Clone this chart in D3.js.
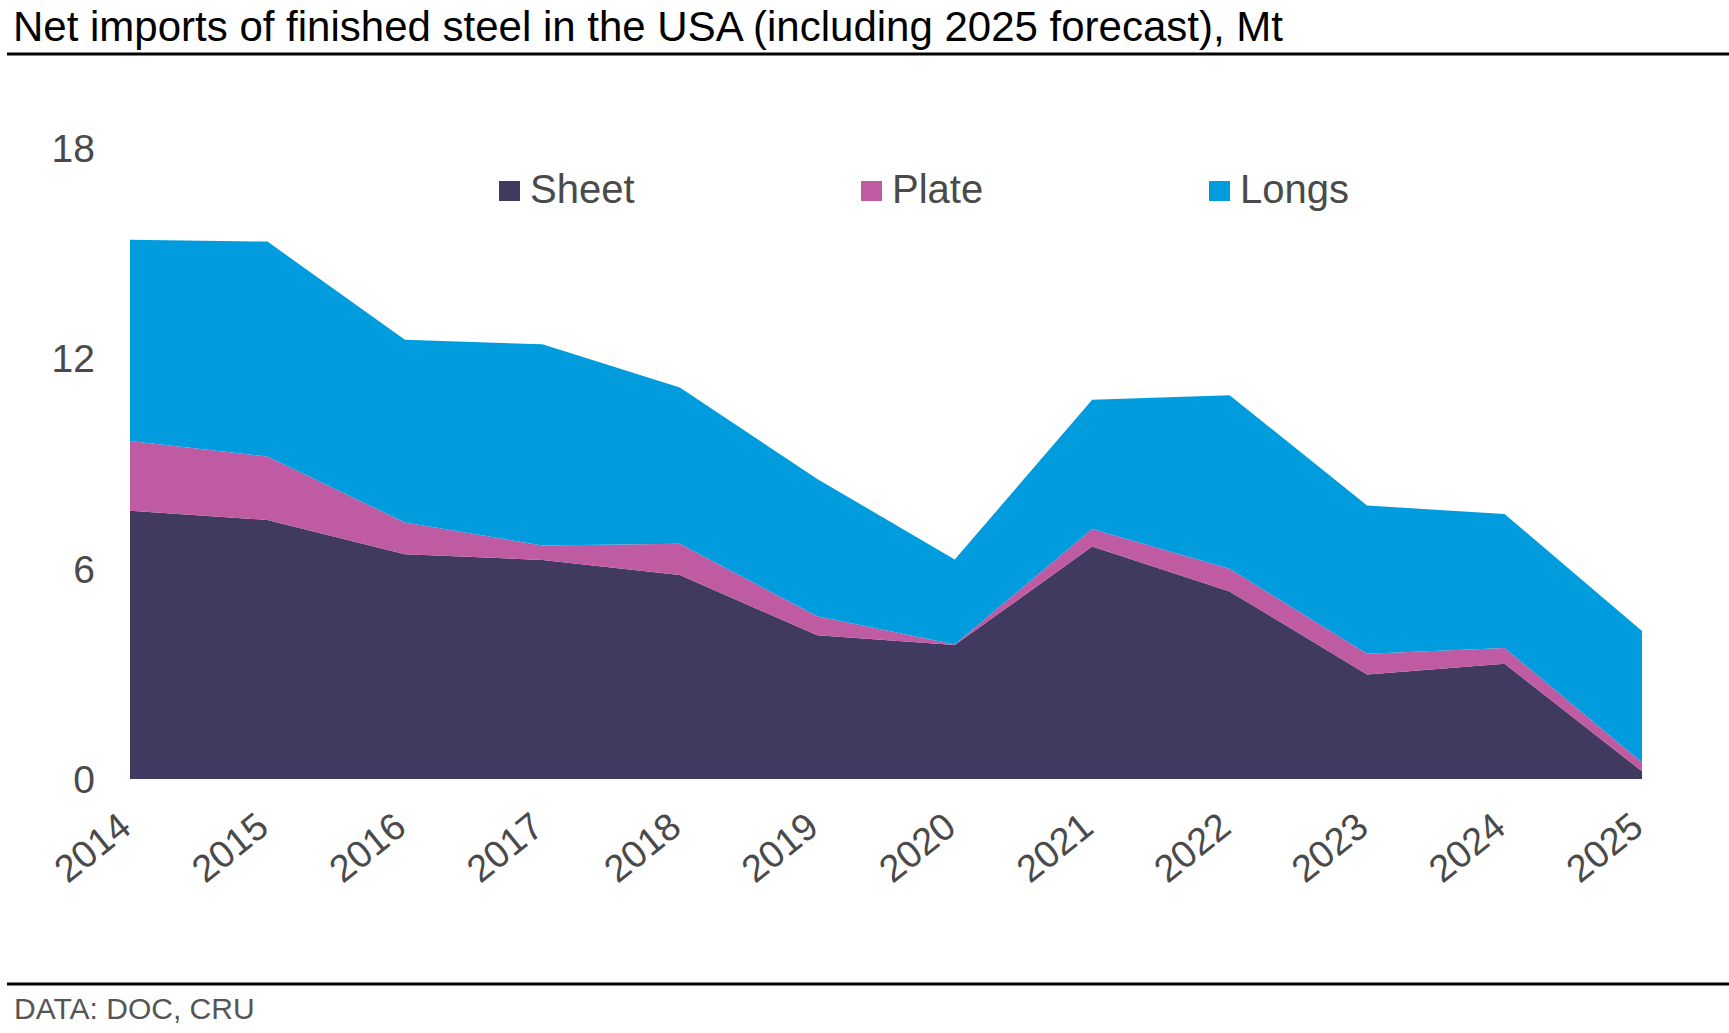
<!DOCTYPE html>
<html>
<head>
<meta charset="utf-8">
<script src="https://cdnjs.cloudflare.com/ajax/libs/d3/7.8.5/d3.min.js"></script>
<style>
    body { margin: 0; background: #fff; }
    svg { display: block; font-family: "Liberation Sans", Arial, sans-serif; }
</style>
</head>
<body>
<div id="chart"></div>
<script>
// years on the x axis
var years = ["2014", "2015", "2016", "2017", "2018", "2019", "2020", "2021", "2022", "2023", "2024", "2025"];
// Mt
var sheet = [7.65, 7.39, 6.41, 6.25, 5.82, 4.10, 3.82, 6.63, 5.35, 2.98, 3.29, 0.22];
var plate = [1.99, 1.81, 0.91, 0.41, 0.89, 0.54, 0.02, 0.50, 0.65, 0.59, 0.45, 0.25];
var longs = [5.74, 6.13, 5.21, 5.74, 4.46, 3.92, 2.42, 3.69, 4.95, 4.23, 3.82, 3.75];
var seriesNames = ["Sheet", "Plate", "Longs"];
var seriesColors = ["#403960", "#BE5BA3", "#009CDE"];
var yTicks = [0, 6, 12, 18];

function init(){

    var w = 1729;
    var h = 1033;
    var left = 130, right = 1642, top = 148, bottom = 779;

    var svg = d3.select("#chart")
                .append("svg")
                .attr("width", w)
                .attr("height", h);

    // rows for d3.stack
    var table = years.map(function(y, i){
        return { year: y, Sheet: sheet[i], Plate: plate[i], Longs: longs[i] };
    });

    var stacked = d3.stack().keys(seriesNames)(table);

    var xScale = d3.scalePoint()
                    .domain(years)
                    .range([left, right]);

    var yScale = d3.scaleLinear()
                    .domain([0, 18])
                    .range([bottom, top]);

    var area = d3.area()
                .x(function(d){ return xScale(d.data.year); })
                .y0(function(d){ return yScale(d[0]); })
                .y1(function(d){ return yScale(d[1]); });

    svg.selectAll("path.layer")
        .data(stacked)
        .enter()
        .append("path")
        .attr("class", "layer")
        .attr("d", area)
        .attr("fill", function(d, i){ return seriesColors[i]; });

    // y axis labels only, no line or ticks
    var yAxis = svg.append("g")
                    .attr("transform", "translate(" + (left - 35) + ",0)")
                    .call(d3.axisLeft(yScale).tickValues(yTicks).tickSize(0).tickPadding(0));
    yAxis.select(".domain").remove();
    yAxis.selectAll("text")
        .attr("font-family", "Liberation Sans, Arial, sans-serif")
        .attr("font-size", "39px")
        .attr("fill", "#4a4a4a")
        .attr("dy", "0.35em");

    // x axis, rotated year labels
    var xAxis = svg.append("g")
                    .attr("transform", "translate(0," + bottom + ")")
                    .call(d3.axisBottom(xScale).tickSize(0));
    xAxis.select(".domain").remove();
    xAxis.selectAll("text")
        .attr("font-family", "Liberation Sans, Arial, sans-serif")
        .attr("font-size", "38px")
        .attr("fill", "#4a4a4a")
        .attr("text-anchor", "end")
        .attr("x", null).attr("y", null).attr("dy", null)
        .attr("transform", "translate(3,52) rotate(-39)");

    // legend
    var legendX = [499, 861, 1209];
    var legend = svg.selectAll("g.legend")
                    .data(seriesNames)
                    .enter()
                    .append("g")
                    .attr("class", "legend")
                    .attr("transform", function(d, i){ return "translate(" + legendX[i] + ",181)"; });
    legend.append("rect")
        .attr("width", 21)
        .attr("height", 20)
        .attr("fill", function(d, i){ return seriesColors[i]; });
    legend.append("text")
        .attr("x", 31)
        .attr("y", 22)
        .attr("font-size", "40px")
        .attr("fill", "#4a4a4a")
        .text(function(d){ return d; });

    // title and rules
    svg.append("text")
        .attr("x", 13)
        .attr("y", 41)
        .attr("font-size", "42px")
        .attr("fill", "#000")
        .text("Net imports of finished steel in the USA (including 2025 forecast), Mt");

    svg.append("line")
        .attr("x1", 7).attr("x2", w)
        .attr("y1", 54).attr("y2", 54)
        .attr("stroke", "#000")
        .attr("stroke-width", 3);

    svg.append("line")
        .attr("x1", 7).attr("x2", w)
        .attr("y1", 984).attr("y2", 984)
        .attr("stroke", "#000")
        .attr("stroke-width", 3);

    svg.append("text")
        .attr("x", 14)
        .attr("y", 1019)
        .attr("font-size", "30px")
        .attr("fill", "#555")
        .text("DATA: DOC, CRU");
}

window.onload = init;
</script>
</body>
</html>
